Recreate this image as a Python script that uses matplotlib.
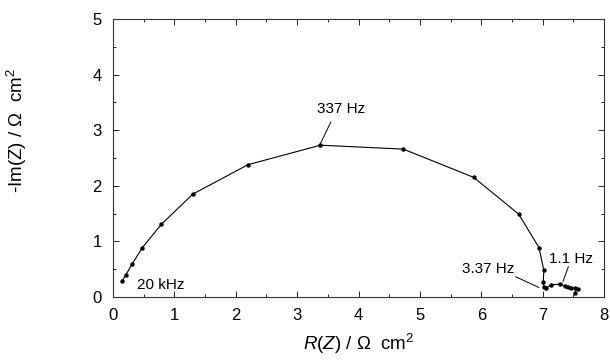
import matplotlib
matplotlib.use("Agg")
import matplotlib.pyplot as plt
from matplotlib.ticker import MultipleLocator

plt.rcParams['font.family'] = ['Liberation Sans', 'DejaVu Sans']
plt.rcParams['mathtext.fontset'] = 'custom'
plt.rcParams['mathtext.rm'] = 'Liberation Sans'
plt.rcParams['mathtext.it'] = 'Liberation Sans:italic'

# Nyquist data (R, -Im) in Ohm cm^2
re_z = [0.15, 0.21, 0.31, 0.48, 0.79, 1.30, 2.20, 3.38, 4.73, 5.88, 6.61, 6.94,
        7.02, 7.01, 7.02, 7.06, 7.14, 7.28, 7.37, 7.41, 7.46, 7.53, 7.57, 7.52]
im_z = [0.29, 0.40, 0.59, 0.89, 1.31, 1.85, 2.38, 2.73, 2.66, 2.15, 1.49, 0.89,
        0.48, 0.27, 0.18, 0.16, 0.22, 0.23, 0.20, 0.18, 0.16, 0.16, 0.14, 0.08]

x_ticks = [0, 1, 2, 3, 4, 5, 6, 7, 8]
y_ticks = [0, 1, 2, 3, 4, 5]

# annotations: label, text position, leader line start, leader line end
ann_labels = ['337 Hz', '20 kHz', '3.37 Hz', '1.1 Hz']
ann_text_xy = [(3.72, 3.38), (0.78, 0.22), (6.11, 0.50), (7.47, 0.68)]
ann_lead_from = [(3.55, 3.15), None, (6.56, 0.365), (7.42, 0.545)]
ann_lead_to = [(3.38, 2.76), None, (6.94, 0.17), (7.33, 0.275)]

fig = plt.figure(figsize=(6.10, 3.63), dpi=100)
ax = fig.add_axes([113/610, 1-297/363, (604-113)/610, (297-19)/363])

ax.plot(re_z, im_z, color='black', lw=0.8, marker='o', ms=2.2, mfc='black', mec='black')

ax.set_xlim(0, 8)
ax.set_ylim(0, 5)
ax.set_xticks(x_ticks)
ax.set_yticks(y_ticks)
ax.xaxis.set_minor_locator(MultipleLocator(0.5))
ax.yaxis.set_minor_locator(MultipleLocator(0.5))
ax.tick_params(which='both', direction='in', top=True, right=True, width=0.6)
ax.tick_params(which='major', length=4, labelsize=12, pad=8)
ax.tick_params(which='minor', length=2.5)
for s in ax.spines.values():
    s.set_linewidth(0.8)
    s.set_color('#333333')

ax.set_xlabel('$R$($Z$) / Ω  cm$^2$', fontsize=13.5, labelpad=6)
ax.set_ylabel('-Im(Z) / Ω  cm$^2$', fontsize=13.5)
ax.yaxis.set_label_coords(-0.172, 0.60)

ann_fs = 11
for lab, txy, p0, p1 in zip(ann_labels, ann_text_xy, ann_lead_from, ann_lead_to):
    ax.text(txy[0], txy[1], lab, fontsize=ann_fs, ha='center', va='center')
    if p0 is not None:
        ax.annotate('', xy=p1, xytext=p0,
                    arrowprops=dict(arrowstyle='-', lw=0.7, color='black',
                                    shrinkA=0, shrinkB=0))

fig.savefig('out.png', dpi=100)
